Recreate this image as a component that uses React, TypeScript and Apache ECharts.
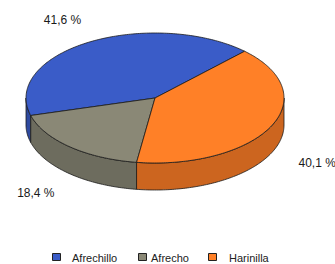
import React, { useEffect, useRef } from "react";
import * as echarts from "echarts";

const categories = ["Afrechillo", "Afrecho", "Harinilla"];
const values = [41.6, 18.4, 40.1];
const topColors = ["#3a5cc8", "#8a8876", "#ff8027"];
const sideColors = ["#2e4aa0", "#6d6c5e", "#cc651f"];

// legend layout (pixels)
const legendIconX = [52, 138, 208];
const legendTextX = [72, 151, 229];

export default function App() {
  const ref = useRef<HTMLDivElement>(null);
  useEffect(() => {
    if (!ref.current) return;
    const chart = echarts.init(ref.current, null, { renderer: "svg" });
    const total = values.reduce((a, b) => a + b, 0);
    const cum: number[] = [];
    let acc = 0;
    values.forEach((v) => {
      cum.push(acc);
      acc += v;
    });
    const cx = 155, cy = 98, rx = 129, ry = 65, depth = 27, startDeg = 46;
    const pt = (deg: number, dy = 0) => {
      const t = (deg * Math.PI) / 180;
      return [cx + rx * Math.cos(t), cy - ry * Math.sin(t) + dy];
    };
    const arc = (a0: number, a1: number, dy = 0) => {
      const pts: number[][] = [];
      const n = Math.max(2, Math.ceil(a1 - a0));
      for (let k = 0; k <= n; k++) pts.push(pt(a0 + ((a1 - a0) * k) / n, dy));
      return pts;
    };
    const renderItem = (params: any, api: any) => {
      const i = params.dataIndex;
      const v = api.value(0);
      const a0 = startDeg + (cum[i] / total) * 360;
      const a1 = a0 + (v / total) * 360;
      const children: any[] = [];
      const ranges = [[180, 360], [540, 720]];
      ranges.forEach(([r0, r1]) => {
        const s = Math.max(a0, r0), e = Math.min(a1, r1);
        if (e > s) {
          const top = arc(s, e);
          const bot = arc(s, e, depth).reverse();
          children.push({
            type: "polygon",
            z2: 1,
            shape: { points: top.concat(bot) },
            style: { fill: sideColors[i], stroke: "#1a1a1a", lineWidth: 0.8 },
          });
        }
      });
      children.push({
        type: "polygon",
        z2: 2,
        shape: { points: [[cx, cy]].concat(arc(a0, a1)) },
        style: { fill: topColors[i], stroke: "#1a1a1a", lineWidth: 0.8, lineJoin: "round" },
      });
      const mid = (((a0 + a1) / 2) * Math.PI) / 180;
      const below = Math.sin(mid) < 0;
      const lx = cx + 1.4 * rx * Math.cos(mid);
      const ly = cy - (below ? 1.5 : 1.4) * ry * Math.sin(mid) + (below ? 22 : 0);
      children.push({
        type: "text",
        z2: 3,
        x: lx,
        y: ly,
        style: {
          text: v.toFixed(1).replace(".", ",") + " %",
          fill: "#1a1a1a",
          font: "12px 'Liberation Sans', Arial, sans-serif",
          align: "center",
          verticalAlign: "middle",
        },
      });
      return { type: "group", children };
    };
    const legendGraphics: any[] = [];
    categories.forEach((c, i) => {
      legendGraphics.push({
        type: "rect",
        shape: { x: legendIconX[i] + 0.5, y: 253.5, width: 8, height: 7 },
        style: { fill: topColors[i], stroke: "#222", lineWidth: 1 },
      });
      legendGraphics.push({
        type: "text",
        x: legendTextX[i],
        y: 257.5,
        style: {
          text: c,
          fill: "#222",
          font: "11px 'Liberation Sans', Arial, sans-serif",
          align: "left",
          verticalAlign: "middle",
        },
      });
    });
    chart.setOption({
      animation: false,
      graphic: legendGraphics,
      series: [
        {
          type: "custom",
          coordinateSystem: "none",
          name: "pie3d",
          data: values,
          renderItem,
          silent: true,
        },
      ],
    });
    return () => chart.dispose();
  }, []);
  return (
    <div
      ref={ref}
      style={{ position: "fixed", left: 0, top: 0, width: 335, height: 264, background: "#fff" }}
    />
  );
}
